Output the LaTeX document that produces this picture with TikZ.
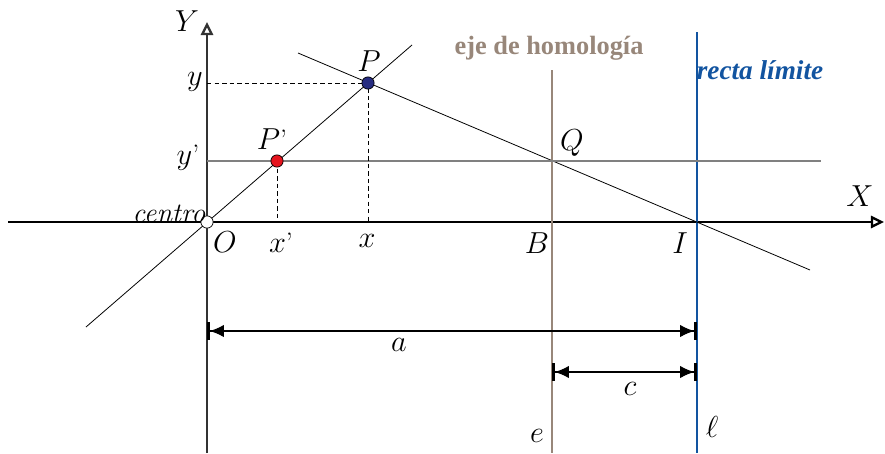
\documentclass[tikz,border=0pt]{standalone}
\usepackage{fontspec}
\newfontfamily\timesfont{Liberation Serif}
\usetikzlibrary{arrows.meta}
\definecolor{ejecolor}{RGB}{152,135,122}
\definecolor{limcolor}{RGB}{18,84,160}
\definecolor{pblue}{RGB}{38,44,128}
\definecolor{pred}{RGB}{230,20,30}
\tikzset{
  axisline/.style={line width=0.6pt, -{Triangle[open, length=7.5pt, width=7pt, line width=1.3pt]}},
  thinline/.style={line width=0.45pt},
  dimline/.style={line width=0.6pt, {Bar[width=10pt,line width=1.6pt]Latex[length=8pt,width=7pt]}-{Latex[length=8pt,width=7pt]Bar[width=10pt,line width=1.6pt]}},
  guide/.style={line width=0.45pt, dash pattern=on 2.5pt off 1.8pt},
  dot/.style={circle, draw=black, line width=0.4pt, inner sep=0pt, minimum size=7pt}
}
\begin{document}
\begin{tikzpicture}[x=0.02cm, y=-0.02cm, font=\fontsize{16}{18}\selectfont, line join=round]
	\useasboundingbox (0,0) rectangle (885,453);
	% puntos
	\coordinate (O) at (207,222);
	\coordinate (P) at (368,83);
	\coordinate (Pp) at (277,161);
	\coordinate (Q) at (552,161);
	\coordinate (I) at (697,222);
	\coordinate (B) at (552,222);
	\coordinate (Py) at (207,83);
	\coordinate (Ppy) at (207,161);
	\coordinate (Px) at (368,222);
	\coordinate (Ppx) at (277,222);
	% ejes
	\coordinate (Xa) at (8,222);
	\coordinate (Xb) at (884,222);
	\coordinate (Ya) at (207,453);
	\coordinate (Yb) at (207,22);
	\draw[axisline] (Xa) -- (Xb);
	\draw[axisline, black!80] (Ya) -- (Yb);
	% eje de homologia y recta limite
	\coordinate (ea) at (552,70);
	\coordinate (eb) at (552,453);
	\coordinate (la) at (697,32);
	\coordinate (lb) at (697,453);
	\draw[ejecolor, line width=1.1pt] (ea) -- (eb);
	\draw[limcolor, line width=1.3pt] (la) -- (lb);
	% rectas
	\coordinate (ra) at (86,327);
	\coordinate (rb) at (412,45);
	\draw[thinline] (ra) -- (rb);
	\coordinate (sa) at (298,53);
	\coordinate (sb) at (810,270);
	\draw[thinline] (sa) -- (sb);
	\coordinate (hb) at (821,161);
	\draw[black!50, line width=0.7pt] (Ppy) -- (hb);
	% proyecciones
	\draw[guide] (Py) -- (P) -- (Px);
	\draw[guide] (Pp) -- (Ppx);
	% cotas
	\coordinate (aa) at (207,331);
	\coordinate (ab) at (697,331);
	\coordinate (ca) at (552,372);
	\coordinate (cb) at (697,372);
	\draw[dimline] (aa) -- (ab);
	\draw[dimline] (ca) -- (cb);
	% marcas
	\node[dot, fill=white] (centroDot) at (O) {};
	\node[dot, fill=pblue] (PDot) at (P) {};
	\node[dot, fill=pred] (PpDot) at (Pp) {};
	% rotulos
	\node (labY) at (187,21) {$Y$};
	\node (labX) at (860,196) {$X$};
	\node (labP) at (369,61) {$P$};
	\node (labPp) at (272,139) {$P$’};
	\node (laby) at (195,82) {$y$};
	\node (labyp) at (188,158) {$y$’};
	\node (labcentro) at (169,214) {\itshape centro};
	\node (labO) at (225,242) {$O$};
	\node (labxp) at (281,243) {$x$’};
	\node (labx) at (367,241) {$x$};
	\node (labB) at (537,243) {$B$};
	\node (labI) at (680,243) {$I$};
	\node (labQ) at (572,143) {$Q$};
	\node (laba) at (399,345) {$a$};
	\node (labc) at (630,389) {$c$};
	\node (labe) at (537,436) {$e$};
	\node (labl) at (712,427) {$\ell$};
	\node[ejecolor, font=\timesfont\bfseries\fontsize{15}{17}\selectfont] (labeje) at (549,48) {eje de homología};
	\node[limcolor, font=\timesfont\bfseries\itshape\fontsize{15.5}{17}\selectfont] (lablim) at (760,70) {recta límite};
\end{tikzpicture}
\end{document}
